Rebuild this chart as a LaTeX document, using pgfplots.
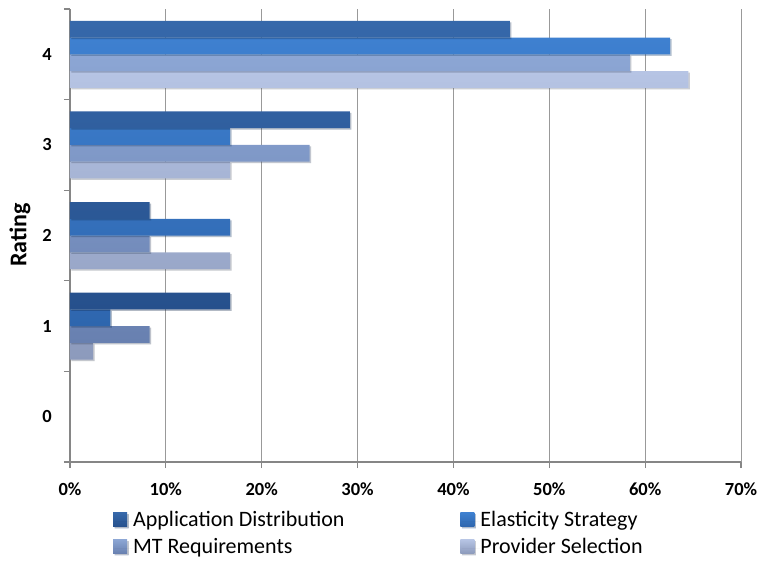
\documentclass[border=0pt]{standalone}
\usepackage{fontspec}
\setmainfont{Carlito}
\usepackage{pgfplots}
\pgfplotsset{compat=1.18}

\definecolor{adTop}{RGB}{54,104,170}
\definecolor{adBot}{RGB}{38,80,140}
\definecolor{esTop}{RGB}{62,128,208}
\definecolor{esBot}{RGB}{46,102,174}
\definecolor{mtTop}{RGB}{140,166,212}
\definecolor{mtBot}{RGB}{104,128,176}
\definecolor{psTop}{RGB}{182,196,228}
\definecolor{psBot}{RGB}{140,154,188}
\definecolor{axgray}{RGB}{134,134,134}

\pgfplotsset{
  shadowbar/.style={draw=none,
    preaction={fill=black, opacity=0.18,
      transform canvas={xshift=1.5pt, yshift=-1.5pt}}},
}

\begin{document}
\begin{tikzpicture}
  % page is 761 x 563, axis box from (70,9) to (741,462) counted from top left
  \useasboundingbox (-70pt,-101pt) rectangle (691pt,462pt);
  \begin{axis}[
      at={(0pt,0pt)}, anchor=south west,
      scale only axis,
      width=671pt,
      height=453pt,
      xbar=0pt,
      bar width=16.75pt,
      xmin=0, xmax=70,
      ymin=-0.5, ymax=4.5,
      axis lines*=left,
      axis line style={axgray, line width=1.6pt},
      xtick={0,10,...,70},
      xticklabels={0\%,10\%,20\%,30\%,40\%,50\%,60\%,70\%},
      ytick={0,1,2,3,4},
      yticklabels={0,1,2,3,4},
      minor ytick={-0.5,0.5,...,4.5},
      major tick length=0pt,
      minor tick length=6pt,
      tick align=outside,
      tick style={axgray, line width=1.2pt},
      xmajorgrids,
      major grid style={gray!80, line width=0.8pt},
      extra x ticks={0,10,...,70},
      extra x tick labels={},
      extra x tick style={major tick length=6pt, grid=none},
      tick label style={font=\fontsize{18.5}{20}\selectfont\bfseries},
      xticklabel style={anchor=north, inner sep=0pt, yshift=-21pt},
      yticklabel style={anchor=east, inner sep=0pt, xshift=-18pt},
      ylabel={\textbf{Rating}},
      ylabel style={font=\fontsize{24}{26}\selectfont,
        at={(axis description cs:-0.0745,0.501)}, anchor=center},
      reverse legend,
      legend columns=2,
      legend cell align=left,
      legend style={draw=none, fill=none, inner sep=0pt,
        at={(axis description cs:0.064,-0.157)}, anchor=west,
        font=\fontsize{22}{24}\selectfont,
        /tikz/every even column/.append style={column sep=114pt},
        row sep=6pt},
      legend image code/.code={%
        \path[#1, draw=none] (0pt,-7pt) rectangle (14pt,7pt);
        \path (0pt,0pt) -- (18pt,0pt);},
    ]
    % drawn from bottom bar to top bar of each group; category 0 has no bars
    \addplot[shadowbar, top color=psTop, bottom color=psBot] coordinates {
      (2.4,1) (16.7,2) (16.7,3) (64.5,4)};
    \addplot[shadowbar, top color=mtTop, bottom color=mtBot] coordinates {
      (8.3,1) (8.3,2) (25.0,3) (58.4,4)};
    \addplot[shadowbar, top color=esTop, bottom color=esBot] coordinates {
      (4.2,1) (16.7,2) (16.7,3) (62.6,4)};
    \addplot[shadowbar, top color=adTop, bottom color=adBot] coordinates {
      (16.7,1) (8.3,2) (29.2,3) (45.9,4)};
    \legend{Provider Selection, MT Requirements, Elasticity Strategy, Application Distribution}
  \end{axis}
\end{tikzpicture}
\end{document}
